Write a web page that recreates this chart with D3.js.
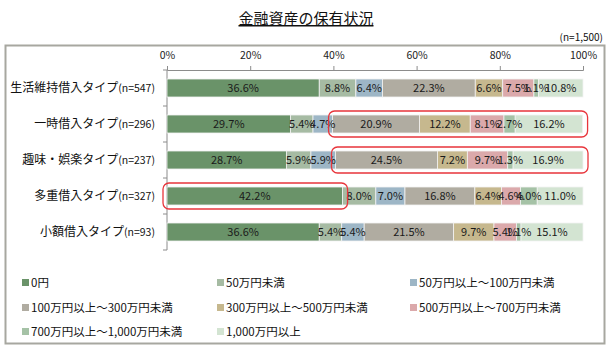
<!DOCTYPE html>
<html>
<head>
<meta charset="utf-8">
<script src="https://cdn.jsdelivr.net/npm/d3@7"></script>
<style>
  body { margin: 0; background: #fff; }
  svg { display: block; font-family: "Noto Sans CJK JP", "Noto Sans", sans-serif; }
</style>
</head>
<body>
<div id="chart"></div>
<script>
// data
const types = ["生活維持借入タイプ", "一時借入タイプ", "趣味・娯楽タイプ", "多重借入タイプ", "小額借入タイプ"];
const counts = [547, 296, 237, 327, 93];
const brackets = ["0円", "50万円未満", "50万円以上～100万円未満", "100万円以上～300万円未満",
  "300万円以上～500万円未満", "500万円以上～700万円未満", "700万円以上～1,000万円未満", "1,000万円以上"];
const shares = [
  [36.6, 8.8, 6.4, 22.3, 6.6, 7.5, 1.1, 10.8],
  [29.7, 5.4, 4.7, 20.9, 12.2, 8.1, 2.7, 16.2],
  [28.7, 5.9, 5.9, 24.5, 7.2, 9.7, 1.3, 16.9],
  [42.2, 8.0, 7.0, 16.8, 6.4, 4.6, 4.0, 11.0],
  [36.6, 5.4, 5.4, 21.5, 9.7, 5.4, 1.1, 15.1]
];
const tickValues = [0, 20, 40, 60, 80, 100];
// red boxes: row, first and last bracket index covered
const highlights = [
  { row: 1, from: 3, to: 7 },
  { row: 2, from: 3, to: 7 },
  { row: 3, from: 0, to: 0 }
];

const colors = ["#6a9369", "#a6bba3", "#9db6c6", "#b0aca1", "#c6b88e", "#dba9ab", "#a5c2a6", "#d3e4d2"];

const W = 612, H = 351;
const svg = d3.select("#chart").append("svg").attr("width", W).attr("height", H);

// outer frame
svg.append("rect")
  .attr("x", 5.5).attr("y", 45.5).attr("width", 599).attr("height", 298)
  .attr("fill", "none").attr("stroke", "#a7a7a0").attr("stroke-width", 2);

// title
svg.append("text")
  .attr("x", 306).attr("y", 24)
  .attr("text-anchor", "middle")
  .style("font-size", "15px").style("fill", "#111")
  .style("text-decoration", "underline")
  .text("金融資産の保有状況");

svg.append("text")
  .attr("x", 603).attr("y", 41)
  .attr("text-anchor", "end")
  .style("font-size", "10px").style("fill", "#111")
  .text("(n=1,500)");

const x = d3.scaleLinear().domain([0, 100]).range([167, 583]);
const y = d3.scaleBand().domain(d3.range(types.length)).range([70, 250]).paddingInner(0.5).paddingOuter(0.25);
const band = d3.scaleBand().domain(d3.range(types.length)).range([70, 250]);

// top axis
const xAxis = g => g
  .attr("transform", "translate(0,70)")
  .call(d3.axisTop(x).tickValues(tickValues).tickSize(4).tickPadding(7).tickFormat(d => d + "%"))
  .call(g => g.selectAll("path,line").attr("stroke", "#8c8c8c"))
  .call(g => g.selectAll("text").style("font-size", "10.5px").style("fill", "#222").style("font-family", "\"Noto Sans CJK JP\", sans-serif"));
svg.append("g").call(xAxis);

// left axis line + ticks on band edges
const yax = svg.append("g");
yax.append("line").attr("x1", 167).attr("x2", 167).attr("y1", 70).attr("y2", 250).attr("stroke", "#8c8c8c");
yax.selectAll("line.tk")
  .data(d3.range(types.length + 1))
  .join("line").attr("class", "tk")
  .attr("x1", 163).attr("x2", 167)
  .attr("y1", d => 70 + d * band.step()).attr("y2", d => 70 + d * band.step())
  .attr("stroke", "#8c8c8c");

// category labels
const lab = svg.append("g").selectAll("text")
  .data(types)
  .join("text")
  .attr("x", 155)
  .attr("y", (d, i) => y(i) + y.bandwidth() / 2 + 4)
  .attr("text-anchor", "end")
  .style("fill", "#111");
lab.append("tspan").style("font-size", "12px").text(d => d);
lab.append("tspan").style("font-size", "10.5px").text((d, i) => "(n=" + counts[i] + ")");

// stacked bars
const rows = shares.map((vals, r) => {
  let acc = 0;
  return vals.map((v, k) => {
    const s = { row: r, k: k, v: v, x0: acc, x1: acc + v };
    acc += v;
    return s;
  });
});

const rowG = svg.append("g").selectAll("g")
  .data(rows)
  .join("g");

rowG.selectAll("rect")
  .data(d => d)
  .join("rect")
  .attr("x", d => x(d.x0))
  .attr("y", d => y(d.row))
  .attr("width", d => Math.max(0, x(Math.min(d.x1, 100)) - x(d.x0)))
  .attr("height", y.bandwidth())
  .attr("fill", d => colors[d.k])
  .attr("stroke", "#f2f2f2")
  .attr("stroke-width", 0.8);

rowG.selectAll("text")
  .data(d => d)
  .join("text")
  .attr("x", d => x((d.x0 + Math.min(d.x1, 100)) / 2))
  .attr("y", d => y(d.row) + y.bandwidth() / 2 + 4)
  .attr("text-anchor", "middle")
  .style("font-size", "11px")
  .style("fill", "#1a1a1a")
  .text(d => d.v.toFixed(1) + "%");

// red highlight boxes
svg.append("g").selectAll("rect")
  .data(highlights)
  .join("rect")
  .attr("x", d => x(rows[d.row][d.from].x0) - 4)
  .attr("y", d => y(d.row) - 4)
  .attr("width", d => x(Math.min(rows[d.row][d.to].x1, 100)) - x(rows[d.row][d.from].x0) + 9)
  .attr("height", y.bandwidth() + 8)
  .attr("rx", 6)
  .attr("fill", "none")
  .attr("stroke", "#e8353b")
  .attr("stroke-width", 1.3);

// legend
const legCols = [22, 217, 410];
const legRows = [283, 308, 332];
const leg = svg.append("g").selectAll("g")
  .data(brackets)
  .join("g")
  .attr("transform", (d, i) => `translate(${legCols[i % 3]},${legRows[Math.floor(i / 3)]})`);
leg.append("rect")
  .attr("x", 0).attr("y", -4).attr("width", 7).attr("height", 7)
  .attr("fill", (d, i) => colors[i]);
leg.append("text")
  .attr("x", 9).attr("y", 4)
  .style("font-size", "11.5px").style("fill", "#111")
  .text(d => d);
</script>
</body>
</html>
